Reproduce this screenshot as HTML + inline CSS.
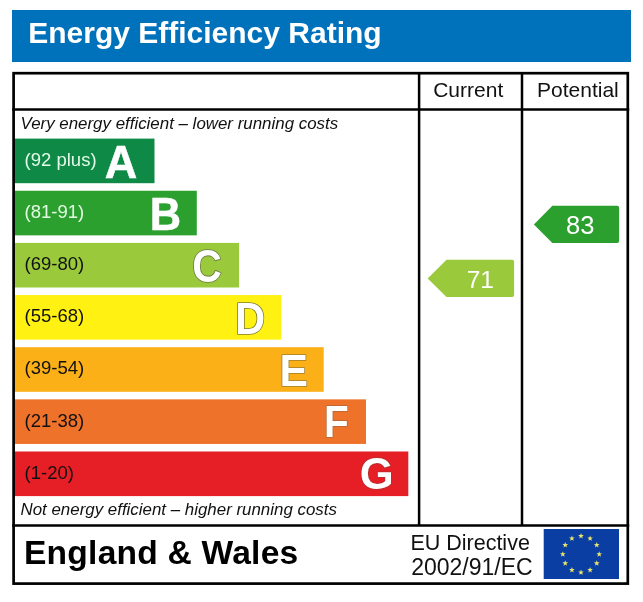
<!DOCTYPE html>
<html lang="en"><head><meta charset="utf-8"><title>Energy Efficiency Rating</title>
<style>html,body{margin:0;padding:0;background:#fff}body{width:643px;height:602px;overflow:hidden}svg{display:block}text{font-family:"Liberation Sans",sans-serif}</style></head><body>
<svg width="643" height="602" viewBox="0 0 643 602">
<rect width="643" height="602" fill="#ffffff"/>
<rect x="12" y="10" width="619" height="52" fill="#0072bc"/>
<text x="28.2" y="43.1" font-size="30" font-weight="bold" fill="#ffffff">Energy Efficiency Rating</text>
<rect x="14" y="138.60" width="140.50" height="44.6" fill="#0e8a46"/>
<text x="24.6" y="165.80" font-size="18.5" fill="#e4fbe9">(92 plus)</text>
<text transform="translate(121.00 177.70) scale(1.000 1.020)" x="0" y="0" font-size="45" font-weight="bold" text-anchor="middle" fill="#ffffff" stroke="#ffffff" stroke-width="0.5">A</text>
<rect x="14" y="190.75" width="182.80" height="44.6" fill="#2ba02e"/>
<text x="24.6" y="217.95" font-size="18.5" fill="#e4fbe4">(81-91)</text>
<text transform="translate(165.40 229.90) scale(0.965 1.030)" x="0" y="0" font-size="45" font-weight="bold" text-anchor="middle" fill="#ffffff" stroke="#ffffff" stroke-width="0.5">B</text>
<rect x="14" y="242.90" width="225.10" height="44.6" fill="#9aca3c"/>
<text x="24.6" y="270.10" font-size="18.5" fill="#111111">(69-80)</text>
<text transform="translate(207.00 281.80) scale(0.910 1.020)" x="0" y="0" font-size="45" font-weight="bold" text-anchor="middle" fill="#ffffff" stroke="#55553f" stroke-opacity="0.7" stroke-width="1.7" paint-order="stroke" stroke-linejoin="round">C</text>
<rect x="14" y="295.05" width="267.40" height="44.6" fill="#fff112"/>
<text x="24.6" y="322.25" font-size="18.5" fill="#111111">(55-68)</text>
<text transform="translate(250.30 333.50) scale(0.920 1.000)" x="0" y="0" font-size="45" font-weight="bold" text-anchor="middle" fill="#ffffff" stroke="#55553f" stroke-opacity="0.75" stroke-width="1.7" paint-order="stroke" stroke-linejoin="round">D</text>
<rect x="14" y="347.20" width="309.70" height="44.6" fill="#fbb018"/>
<text x="24.6" y="374.40" font-size="18.5" fill="#111111">(39-54)</text>
<text transform="translate(293.80 385.70) scale(0.950 1.000)" x="0" y="0" font-size="45" font-weight="bold" text-anchor="middle" fill="#ffffff" stroke="#55553f" stroke-opacity="0.55" stroke-width="1.7" paint-order="stroke" stroke-linejoin="round">E</text>
<rect x="14" y="399.35" width="352.00" height="44.6" fill="#ee7229"/>
<text x="24.6" y="426.55" font-size="18.5" fill="#111111">(21-38)</text>
<text transform="translate(336.30 437.00) scale(0.900 0.990)" x="0" y="0" font-size="45" font-weight="bold" text-anchor="middle" fill="#ffffff" stroke="#55553f" stroke-opacity="0.4" stroke-width="1.7" paint-order="stroke" stroke-linejoin="round">F</text>
<rect x="14" y="451.50" width="394.30" height="44.6" fill="#e61e25"/>
<text x="24.6" y="478.70" font-size="18.5" fill="#111111">(1-20)</text>
<text transform="translate(376.60 489.00) scale(0.970 1.000)" x="0" y="0" font-size="45" font-weight="bold" text-anchor="middle" fill="#ffffff" stroke="#55553f" stroke-opacity="0.35" stroke-width="1.7" paint-order="stroke" stroke-linejoin="round">G</text>
<g fill="none" stroke="#000000">
<rect x="13.6" y="73.2" width="614.2" height="510.4" stroke-width="2.7"/>
<line x1="12.2" y1="109.5" x2="629.2" y2="109.5" stroke-width="2.5"/>
<line x1="12.2" y1="525.5" x2="629.2" y2="525.5" stroke-width="2.5"/>
<line x1="419.1" y1="72" x2="419.1" y2="525" stroke-width="2.5"/>
<line x1="522" y1="72" x2="522" y2="525" stroke-width="2.5"/>
</g>
<text x="433.2" y="96.8" font-size="21" fill="#111111">Current</text>
<text x="537" y="97" font-size="21" fill="#111111">Potential</text>
<text x="20.5" y="129" font-size="16.9" font-style="italic" fill="#111111">Very energy efficient – lower running costs</text>
<text x="20.5" y="514.5" font-size="16.9" font-style="italic" fill="#111111">Not energy efficient – higher running costs</text>
<path d="M427.7,278.4 L446.5,259.8 L512.1,259.8 Q514.1,259.8 514.1,261.8 L514.1,294.9 Q514.1,296.9 512.1,296.9 L446.5,296.9 Z" fill="#9aca3c"/><text x="480.3" y="287.5" font-size="24.5" text-anchor="middle" fill="#ffffff">71</text>
<path d="M533.9,224.4 L552.4,205.8 L617.1,205.8 Q619.1,205.8 619.1,207.8 L619.1,241.0 Q619.1,243.0 617.1,243.0 L552.4,243.0 Z" fill="#2ba02e"/><text x="580.2" y="233.9" font-size="25.5" text-anchor="middle" fill="#ffffff">83</text>
<text x="24.0" y="563.8" font-size="33.6" letter-spacing="0.22" font-weight="bold" fill="#000000">England &amp; Wales</text>
<text x="410.4" y="550.2" font-size="21.5" fill="#111111">EU Directive</text>
<text x="411.2" y="575" font-size="23" fill="#111111">2002/91/EC</text>
<rect x="543.7" y="529" width="75.3" height="50" fill="#0b3ea3"/>
<polygon points="581.00,533.00 581.74,534.98 583.85,535.07 582.20,536.39 582.76,538.43 581.00,537.26 579.24,538.43 579.80,536.39 578.15,535.07 580.26,534.98" fill="#e9e56a"/>
<polygon points="590.10,535.44 590.84,537.42 592.95,537.51 591.30,538.83 591.86,540.87 590.10,539.70 588.34,540.87 588.90,538.83 587.25,537.51 589.36,537.42" fill="#e9e56a"/>
<polygon points="596.76,542.10 597.50,544.08 599.61,544.17 597.96,545.49 598.53,547.53 596.76,546.36 595.00,547.53 595.56,545.49 593.91,544.17 596.02,544.08" fill="#e9e56a"/>
<polygon points="599.20,551.20 599.94,553.18 602.05,553.27 600.40,554.59 600.96,556.63 599.20,555.46 597.44,556.63 598.00,554.59 596.35,553.27 598.46,553.18" fill="#e9e56a"/>
<polygon points="596.76,560.30 597.50,562.28 599.61,562.37 597.96,563.69 598.53,565.73 596.76,564.56 595.00,565.73 595.56,563.69 593.91,562.37 596.02,562.28" fill="#e9e56a"/>
<polygon points="590.10,566.96 590.84,568.94 592.95,569.03 591.30,570.35 591.86,572.39 590.10,571.22 588.34,572.39 588.90,570.35 587.25,569.03 589.36,568.94" fill="#e9e56a"/>
<polygon points="581.00,569.40 581.74,571.38 583.85,571.47 582.20,572.79 582.76,574.83 581.00,573.66 579.24,574.83 579.80,572.79 578.15,571.47 580.26,571.38" fill="#e9e56a"/>
<polygon points="571.90,566.96 572.64,568.94 574.75,569.03 573.10,570.35 573.66,572.39 571.90,571.22 570.14,572.39 570.70,570.35 569.05,569.03 571.16,568.94" fill="#e9e56a"/>
<polygon points="565.24,560.30 565.98,562.28 568.09,562.37 566.44,563.69 567.00,565.73 565.24,564.56 563.47,565.73 564.04,563.69 562.39,562.37 564.50,562.28" fill="#e9e56a"/>
<polygon points="562.80,551.20 563.54,553.18 565.65,553.27 564.00,554.59 564.56,556.63 562.80,555.46 561.04,556.63 561.60,554.59 559.95,553.27 562.06,553.18" fill="#e9e56a"/>
<polygon points="565.24,542.10 565.98,544.08 568.09,544.17 566.44,545.49 567.00,547.53 565.24,546.36 563.47,547.53 564.04,545.49 562.39,544.17 564.50,544.08" fill="#e9e56a"/>
<polygon points="571.90,535.44 572.64,537.42 574.75,537.51 573.10,538.83 573.66,540.87 571.90,539.70 570.14,540.87 570.70,538.83 569.05,537.51 571.16,537.42" fill="#e9e56a"/>
</svg></body></html>
